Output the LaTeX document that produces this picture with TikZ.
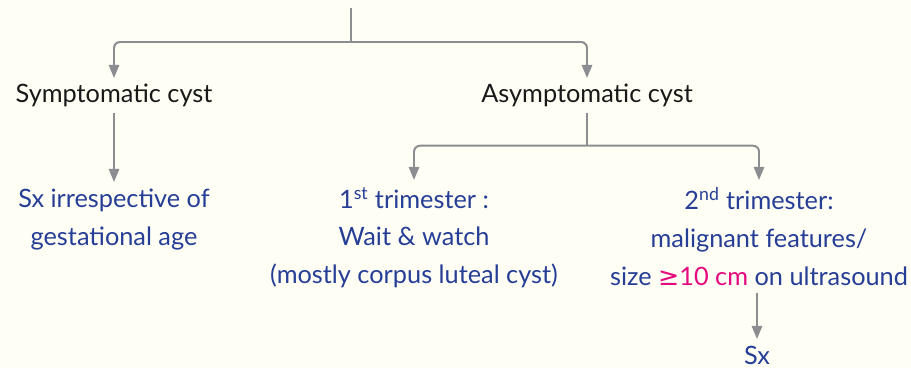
\documentclass[tikz,border=0pt]{standalone}
\usepackage{fontspec}
\setmainfont{Lato}
\newfontfamily\symfont{DejaVu Sans}
\usetikzlibrary{arrows.meta,positioning}

\definecolor{paper}{RGB}{254,254,245}
\definecolor{wire}{RGB}{140,141,145}
\definecolor{ink}{RGB}{38,62,150}
\definecolor{hot}{RGB}{229,9,127}

\begin{document}
\begin{tikzpicture}[
    x=0.025cm, y=-0.025cm,
    font=\fontsize{18}{27}\selectfont,
    >={Triangle[length=0.33cm, width=0.26cm]},
    conn/.style={draw=wire, line width=1.4pt, rounded corners=0.15cm},
    head/.style={anchor=north, inner xsep=0pt, inner ysep=4pt, text=black!90},
    leaf/.style={anchor=north, inner xsep=0pt, inner ysep=5pt, text=ink, align=center}
]
\fill[paper] (0,0) rectangle (911,368);
\useasboundingbox (0,0) rectangle (911,368);

\coordinate (top) at (351,8);
\node[head] (symp) at (114,78) {Symptomatic cyst};
\node[head] (asymp) at (587,78) {Asymptomatic cyst};
\node[leaf] (sxany) at (114,182) {Sx irrespective of\\gestational age};
\node[leaf] (first) at (414,180) {1\textsuperscript{st} trimester :\\Wait \& watch\\(mostly corpus luteal cyst)};
\node[leaf] (second) at (759,180) {2\textsuperscript{nd} trimester:\\malignant features/\\size \textcolor{hot}{{\symfont ≥}10 cm} on ultrasound};
\node[leaf] (sxop) at (757,339) {Sx};

% first split
\draw[conn] (top) -- ++(0,34) coordinate (split);
\draw[conn, ->] (split) -| (symp.north);
\draw[conn, ->] (split) -| (asymp.north);
\draw[conn, ->] (symp.south) -- (sxany.north);
% second split
\draw[conn] (asymp.south) -- ++(0,33) coordinate (split2);
\draw[conn, ->] (split2) -| (first.north);
\draw[conn, ->] (split2) -| (second.north);
\draw[conn, ->] (second.south -| sxop.north) -- (sxop.north);
\end{tikzpicture}
\end{document}
